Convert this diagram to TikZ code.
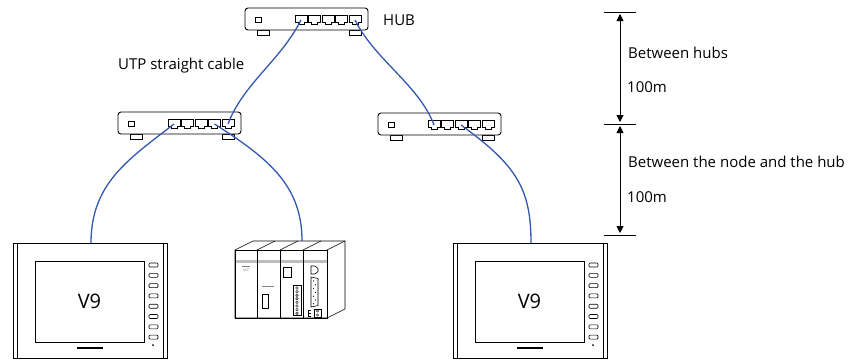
\documentclass[tikz,border=0pt]{standalone}
\usepackage{fontspec}
\setmainfont{Open Sans}
\usetikzlibrary{arrows.meta}
\definecolor{cable}{RGB}{52,88,178}
\definecolor{panelgray}{RGB}{190,190,190}

\tikzset{
  frame/.style={draw=black,line width=0.9pt},
  thinframe/.style={draw=black,line width=0.6pt},
  cableline/.style={draw=cable,line width=1.3pt},
  lbl/.style={font=\fontsize{15}{17}\selectfont,anchor=west,inner sep=0pt},
  dimline/.style={draw=black,line width=0.9pt},
  dimarrow/.style={draw=black,line width=0.9pt,
    {Triangle[length=7pt,width=7pt]}-{Triangle[length=7pt,width=7pt]},
    shorten <=2pt, shorten >=2pt},
  % network hub with five RJ45 ports
  hub/.pic={
    \draw[frame] (12,22) rectangle (24,27) (104,22) rectangle (116,27);
    \draw[frame,fill=white,rounded corners=3pt] (0,0) rectangle (123,22);
    \draw[frame] (10,9) rectangle (16,14);
    \foreach \i in {1,...,5}{
      \draw[thinframe,shift={({50+13.5*(\i-1)},7)}]
        (0,0) -- (12,0) -- (12,7) -- (9,7) -- (9,9) -- (3,9) -- (3,7) -- (0,7) -- cycle;
      \coordinate (-p\i) at ({56+13.5*(\i-1)},12);
    }
  },
  % operator panel
  v9/.pic={
    \draw[frame] (0,0) rectangle (154,115);
    \draw[frame] (4,0) -- (4,115) (150,0) -- (150,115);
    \draw[frame] (22,18) rectangle (131,99);
    \node[font=\fontsize{20}{22}\selectfont,inner sep=0pt] (-label) at (76.5,58.5) {V9};
    \foreach \k in {0,...,7}
      \draw[thinframe,rounded corners=1pt] (136,{20+10.3*\k}) rectangle (145,{24+10.3*\k});
    \fill (140,102) circle (1pt);
    \fill (64,104) rectangle (90,106);
    \coordinate (-top) at (78,0);
  },
  % PLC rack with four modules
  plc/.pic={
    \draw[thinframe,fill=white] (0,0) -- (18,-9) -- (110,-9) -- (110,59) -- (92,68) -- (0,68) -- cycle;
    \draw[thinframe] (92,0) -- (110,-9);
    \draw[thinframe] (22,0) -- (40,-9) (45,0) -- (63,-9) (68,0) -- (86,-9);
    \fill[panelgray] (0,10) rectangle (92,13);
    \draw[thinframe] (0,0) rectangle (92,68);
    \draw[thinframe] (22,0) -- (22,68) (45,0) -- (45,68) (68,0) -- (68,68);
    % module 1
    \draw[gray,line width=0.4pt] (7,16) -- (15,16);
    \node[font=\fontsize{3.5}{4}\selectfont,text=gray,inner sep=0pt] (-ace) at (11,20) {ACE};
    % module 2
    \draw[gray,line width=0.4pt] (27,36) -- (39,36);
    \draw[thinframe] (27,44) rectangle (33,58);
    % module 3
    \draw[thinframe] (48,17) rectangle (56,27);
    \draw[thinframe] (58,35) rectangle (66,65);
    \foreach \k in {0,...,7}
      \draw[line width=0.4pt] (62,{38+3.6*\k}) circle (1.3pt);
    % module 4
    \draw[thinframe] (76,16) -- (80,16) -- (83,18.5) -- (83,21.5) -- (80,24) -- (76,24) -- cycle;
    \draw[thinframe] (76,27) -- (83,28.5) -- (83,55.5) -- (76,57) -- cycle;
    \foreach \k in {0,...,6}
      \fill ({78.5+(mod(\k,2))*2},{31+3.8*\k}) circle (0.6pt);
    \draw[line width=0.5pt] (76,60) -- (73,60) -- (73,66) -- (76,66) (73,63) -- (75.5,63);
    \draw[thinframe] (79,59) rectangle (86,67);
    \draw[line width=0.4pt] (82.5,61) circle (1.2pt) (82.5,65) circle (1.2pt);
    \coordinate (-top) at (67,-9);
  }
}

\begin{document}
\begin{tikzpicture}[x=1pt,y=-1pt]
  \useasboundingbox (0,0) rectangle (853,360);
  \fill[white] (0,0) rectangle (853,360);

  % hubs
  \pic (hubT) at (245,8) {hub};
  \pic (hubL) at (118,112) {hub};
  \pic (hubR) at (378,113) {hub};

  % nodes
  \pic (panelL) at (13,243) {v9};
  \pic (panelR) at (453,243) {v9};
  \pic (plc) at (235,250) {plc};

  % cables
  \draw[cableline] (hubT-p1) .. controls +(-20,40) and +(15,-40) .. (hubL-p5);
  \draw[cableline] (hubT-p5) .. controls +(20,40) and +(-15,-40) .. (hubR-p1);
  \draw[cableline] (hubL-p1) .. controls +(-45,35) and +(0,-60) .. (panelL-top);
  \draw[cableline] (hubL-p4) .. controls +(55,35) and +(0,-55) .. (plc-top);
  \draw[cableline] (hubR-p3) .. controls +(55,40) and +(0,-55) .. (panelR-top);

  % labels
  \node[lbl] (hubtxt) at (383,20) {HUB};
  \node[lbl] (utp) at (118,66) {UTP straight cable};

  % distance dimensions
  \coordinate (d0) at (620,12);
  \coordinate (d1) at (620,124);
  \coordinate (d2) at (620,235);
  \draw[dimline] (604,12) -- (636,12) (604,124) -- (636,124) (604,235) -- (636,235);
  \draw[dimarrow] (d0) -- (d1);
  \draw[dimarrow] (d1) -- (d2);
  \node[lbl] (bh) at (628,53) {Between hubs};
  \node[lbl] (m1) at (627,87) {100m};
  \node[lbl] (bn) at (628,162) {Between the node and the hub};
  \node[lbl] (m2) at (627,197) {100m};
\end{tikzpicture}
\end{document}
